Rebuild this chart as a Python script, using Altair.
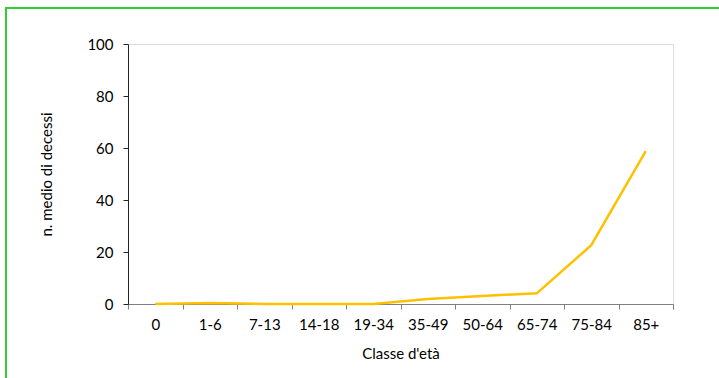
import altair as alt
import pandas as pd

categories = ["0", "1-6", "7-13", "14-18", "19-34", "35-49", "50-64", "65-74", "75-84", "85+"]
values = [0.0, 0.4, 0.0, 0.0, 0.0, 1.9, 3.1, 4.1, 22.6, 58.8]

df = pd.DataFrame({"classe": categories, "decessi": values})

FONT = "Lato"

line = alt.Chart(df).mark_line(color="#FFC000", strokeWidth=2.5).encode(
    x=alt.X("classe:N", sort=categories, bandPosition=0.5,
            scale=alt.Scale(type="band", paddingInner=0, paddingOuter=0),
            axis=alt.Axis(title="Classe d'età", labelAngle=0, tickBand="extent",
                          domainColor="#7f7f7f", tickColor="#7f7f7f", tickSize=5,
                          labelPadding=8, titlePadding=14, grid=False,
                          labelFontSize=15, titleFontSize=15,
                          labelColor="#000000", titleColor="#000000",
                          titleFontWeight="normal", labelFont=FONT, titleFont=FONT)),
    y=alt.Y("decessi:Q", scale=alt.Scale(domain=[0, 100], nice=False),
            axis=alt.Axis(title="n. medio di decessi", values=[0, 20, 40, 60, 80, 100],
                          domainColor="#262626", tickColor="#262626", tickSize=5,
                          labelPadding=10, titlePadding=32, grid=False,
                          labelFontSize=15, titleFontSize=15,
                          labelColor="#000000", titleColor="#000000",
                          titleFontWeight="normal", labelFont=FONT, titleFont=FONT)),
)

border_df = pd.DataFrame({"k": [0]})
top_border = alt.Chart(border_df).mark_rule(color="#33CC33", strokeWidth=2).encode(
    x=alt.value(-123), x2=alt.value(600), y=alt.value(-36))
left_border = alt.Chart(border_df).mark_rule(color="#33CC33", strokeWidth=2).encode(
    x=alt.value(-122), y=alt.value(-36), y2=alt.value(340))

chart = alt.layer(line, top_border, left_border).properties(
    width=545, height=260,
    autosize=alt.AutoSizeParams(type="none"),
    padding={"left": 128, "top": 44, "right": 46, "bottom": 74},
).configure_view(stroke=None).configure(background="white")

chart.save("out.html", embed_options={"renderer": "svg", "actions": False})
